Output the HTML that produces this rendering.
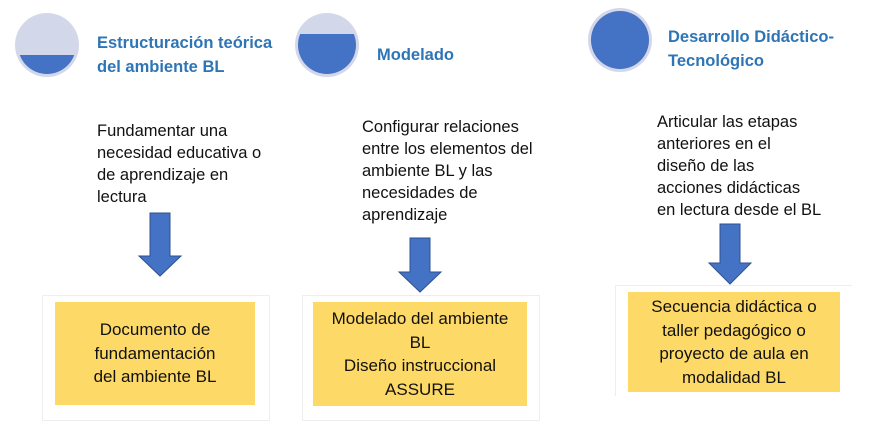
<!DOCTYPE html>
<html><head><meta charset="utf-8"><style>
body{margin:0;width:884px;height:422px;background:#fff;position:relative;overflow:hidden;font-family:"Liberation Sans",sans-serif}
.a{position:absolute;white-space:nowrap}
.t{color:#2e75b6;font-weight:bold;font-size:16.5px;line-height:24px}
.b{color:#111;font-size:16.5px;line-height:22px}
.box{position:absolute;border:1px solid #eee;background:#fff}
.y{position:absolute;background:#fdd967;color:#111;font-size:17px;line-height:23.5px;text-align:center;display:flex;align-items:center;justify-content:center;white-space:nowrap}
</style></head><body>
<svg class="a" style="left:0;top:0" width="884" height="422">
<defs>
<clipPath id="c1"><circle cx="47" cy="45" r="29"/></clipPath>
<clipPath id="c2"><circle cx="327" cy="45" r="29"/></clipPath>
</defs>
<circle cx="47" cy="45" r="32" fill="#d3d7ea"/>
<rect x="10" y="55" width="80" height="40" fill="#4472c4" clip-path="url(#c1)"/>
<circle cx="327" cy="45" r="32" fill="#d3d7ea"/>
<rect x="290" y="34" width="80" height="50" fill="#4472c4" clip-path="url(#c2)"/>
<circle cx="620" cy="40" r="32" fill="#d3d7ea"/>
<circle cx="620" cy="40" r="29" fill="#4472c4"/>
<polygon points="150,213 170,213 170,256 181,256 160,276 139,256 150,256" fill="#4472c4" stroke="#2f528f" stroke-width="1"/>
<polygon points="410,238 430,238 430,272 441,272 420,292 399,272 410,272" fill="#4472c4" stroke="#2f528f" stroke-width="1"/>
<polygon points="720,224 740,224 740,263 751,263 730,284 709,263 720,263" fill="#4472c4" stroke="#2f528f" stroke-width="1"/>
</svg>
<div class="a t" style="left:97px;top:31px">Estructuración teórica<br>del ambiente BL</div>
<div class="a t" style="left:377px;top:43px">Modelado</div>
<div class="a t" style="left:668px;top:25px">Desarrollo Didáctico-<br>Tecnológico</div>
<div class="a b" style="left:97px;top:120px">Fundamentar una<br>necesidad educativa o<br>de aprendizaje en<br>lectura</div>
<div class="a b" style="left:362px;top:116px">Configurar relaciones<br>entre los elementos del<br>ambiente BL y las<br>necesidades de<br>aprendizaje</div>
<div class="a b" style="left:657px;top:111px">Articular las etapas<br>anteriores en el<br>diseño de las<br>acciones didácticas<br>en lectura desde el BL</div>
<div class="box" style="left:42px;top:295px;width:226px;height:124px"></div>
<div class="y" style="left:55px;top:302px;width:200px;height:103px">Documento de<br>fundamentación<br>del ambiente BL</div>
<div class="box" style="left:302px;top:295px;width:236px;height:124px"></div>
<div class="y" style="left:313px;top:302px;width:214px;height:104px">Modelado del ambiente<br>BL<br>Diseño instruccional<br>ASSURE</div>
<div class="box" style="left:615px;top:285px;width:236px;height:110px;border-bottom:none;border-right:none"></div>
<div class="y" style="left:628px;top:292px;width:212px;height:100px">Secuencia didáctica o<br>taller pedagógico o<br>proyecto de aula en<br>modalidad BL</div>
</body></html>
